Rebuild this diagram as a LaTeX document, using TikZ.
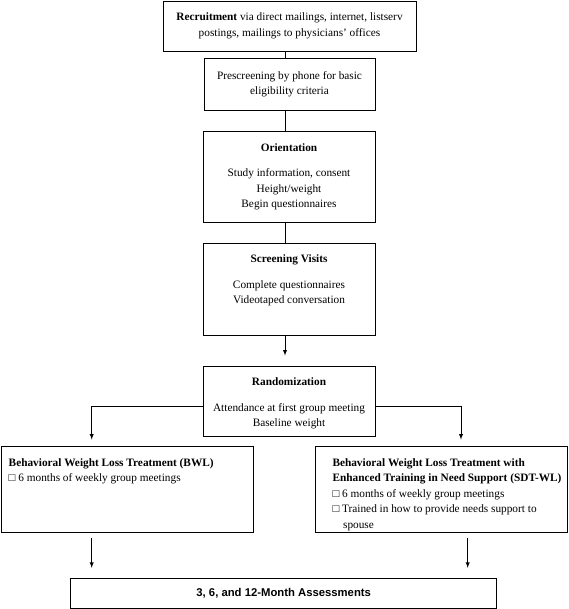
\documentclass[tikz,border=0pt]{standalone}
\usepackage{fontspec}
\setmainfont{Liberation Serif}
\setsansfont{Liberation Sans}
\usetikzlibrary{arrows.meta}

\begin{document}
\begin{tikzpicture}[x = 1pt, y = -1pt,
    scatola/.style = {draw, line width = 0.9pt, inner sep = 0pt},
    testo/.style = {inner sep = 0pt, font = \fontsize{11.3}{15.5}\selectfont},
    freccia/.style = {line width = 0.9pt, -latex}]
    % Parametri
    \pgfmathsetmacro{\asse}{285}
    \pgfmathsetmacro{\sinistra}{91.7}
    \pgfmathsetmacro{\destra}{461}
    \pgfmathsetmacro{\destrabis}{467.7}
    \pgfmathsetmacro{\ramo}{406.7}
    \useasboundingbox (0,0) rectangle (568,609);
    % Riquadri
    \node[scatola, minimum width = 253pt, minimum height = 50pt] (recl) at (289.5,26) {};
    \node[scatola, minimum width = 171pt, minimum height = 52pt] (presc) at (289.5,84) {};
    \node[scatola, minimum width = 172pt, minimum height = 91pt] (orient) at (289,177.2) {};
    \node[scatola, minimum width = 172pt, minimum height = 91.7pt] (screen) at (289,289.2) {};
    \node[scatola, minimum width = 172pt, minimum height = 70pt] (random) at (289,401) {};
    \node[scatola, minimum width = 252pt, minimum height = 86pt] (bwl) at (127,489.7) {};
    \node[scatola, minimum width = 252.5pt, minimum height = 86pt] (sdt) at (441.3,489.7) {};
    \node[scatola, minimum width = 426pt, minimum height = 30pt] (assess) at (283.7,593.3) {};
    % Testi
    \node[testo, align = center] (recl-t) at (recl) {\textbf{Recruitment} via direct mailings, internet, listserv\\postings, mailings to physicians’ offices};
    \node[testo, align = center] (presc-t) at (presc) {Prescreening by phone for basic\\eligibility criteria};
    \node[testo, align = center, anchor = north, yshift = -12pt] (orient-t) at (orient.north) {\textbf{Orientation}\\[10pt]Study information, consent\\Height/weight\\Begin questionnaires};
    \node[testo, align = center, anchor = north, yshift = -12pt] (screen-t) at (screen.north) {\textbf{Screening Visits}\\[10pt]Complete questionnaires\\Videotaped conversation};
    \node[testo, align = center, anchor = north, yshift = -12pt] (random-t) at (random.north) {\textbf{Randomization}\\[10pt]Attendance at first group meeting\\Baseline weight};
    \node[testo, align = left, anchor = north west, xshift = 8pt, yshift = -12pt] (bwl-t) at (bwl.north west) {\textbf{Behavioral Weight Loss Treatment (BWL)}\\□ 6 months of weekly group meetings};
    \node[testo, align = left, anchor = north west, xshift = 17.7pt, yshift = -12pt] (sdt-t) at (sdt.north west) {\textbf{Behavioral Weight Loss Treatment with}\\\textbf{Enhanced Training in Need Support (SDT-WL)}\\□ 6 months of weekly group meetings\\□ Trained in how to provide needs support to\\\makebox[10.6pt]{}spouse};
    \node[testo, font = \fontsize{11.3}{15.5}\selectfont\sffamily\bfseries] (assess-t) at (assess) {3, 6, and 12-Month Assessments};
    % Collegamenti
    \coordinate (asse) at (\asse,0);
    \coordinate (sx) at (\sinistra,0);
    \coordinate (dx) at (\destra,0);
    \coordinate (dxbis) at (\destrabis,0);
    \coordinate (ramo) at (0,\ramo);
    \draw[line width = 0.9pt] (recl.south -| asse) -- (presc.north -| asse);
    \draw[line width = 0.9pt] (presc.south -| asse) -- (orient.north -| asse);
    \draw[line width = 0.9pt] (orient.south -| asse) -- (screen.north -| asse);
    \draw[freccia, shorten >= 10pt] (screen.south -| asse) -- (random.north -| asse);
    \draw[freccia, shorten >= 6.7pt] (random.west |- ramo) -| (bwl.north -| sx);
    \draw[freccia, shorten >= 6.7pt] (random.east |- ramo) -| (sdt.north -| dx);
    \draw[freccia, shorten <= 5pt, shorten >= 10pt] (bwl.south -| sx) -- (assess.north -| sx);
    \draw[freccia, shorten <= 5pt, shorten >= 10pt] (sdt.south -| dxbis) -- (assess.north -| dxbis);
\end{tikzpicture}
\end{document}
